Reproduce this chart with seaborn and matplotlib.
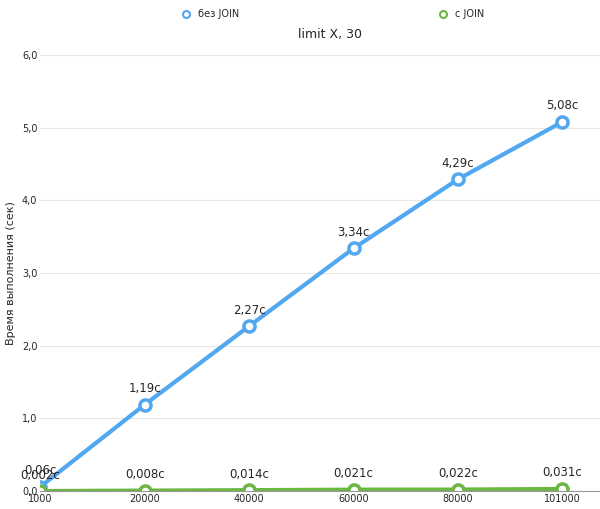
import matplotlib
matplotlib.use("Agg")
import matplotlib.pyplot as plt
import seaborn as sns
import pandas as pd

categories = ["1000", "20000", "40000", "60000", "80000", "101000"]
no_join = [0.06, 1.19, 2.27, 3.34, 4.29, 5.08]
with_join = [0.002, 0.008, 0.014, 0.021, 0.022, 0.031]
no_join_labels = ["0,06с", "1,19с", "2,27с", "3,34с", "4,29с", "5,08с"]
with_join_labels = ["0,002с", "0,008с", "0,014с", "0,021с", "0,022с", "0,031с"]

sns.set_style("white")
plt.rcParams['font.family'] = ['DejaVu Sans']
fig = plt.figure(figsize=(6, 5.09), dpi=100)
ax = fig.add_axes([0.067, 0.035, 0.933, 0.857])

x = list(range(len(categories)))
df = pd.DataFrame({"x": x * 2, "y": no_join + with_join,
                   "s": ["без JOIN"] * 6 + ["с JOIN"] * 6})
pal = {"без JOIN": "#51a7f0", "с JOIN": "#6cb643"}
sns.lineplot(data=df, x="x", y="y", hue="s", palette=pal, ax=ax, lw=3,
             marker="o", markersize=8, markerfacecolor="white",
             markeredgewidth=2.5, legend=False)
for l in ax.lines:
    l.set_markeredgecolor(l.get_color())
for xi, v, t in zip(x, no_join, no_join_labels):
    ax.annotate(t, (xi, v), xytext=(0, 9), textcoords="offset points",
                ha="center", fontsize=8.5)
for xi, v, t in zip(x, with_join, with_join_labels):
    ax.annotate(t, (xi, v), xytext=(0, 9), textcoords="offset points",
                ha="center", fontsize=8.5)

ax.set_xlim(0, 5.36)
ax.set_ylim(0, 6)
ax.set_xticks(x)
ax.set_xticklabels(categories, fontsize=7)
ax.set_yticks([0, 1, 2, 3, 4, 5, 6])
ax.set_yticklabels(["0,0", "1,0", "2,0", "3,0", "4,0", "5,0", "6,0"], fontsize=7)
ax.grid(axis="y", color="#e6e6e6", lw=0.8)
for s in ["top", "right", "left"]:
    ax.spines[s].set_visible(False)
ax.spines["bottom"].set_color("#999999")
ax.tick_params(length=0, pad=2)
ax.set_xlabel("")
ax.set_ylabel("Время выполнения (сек)", fontsize=8)
fig.text(0.55, 0.925, "limit X, 30", ha="center", fontsize=9)

from matplotlib.lines import Line2D
h = [Line2D([], [], marker="o", ls="", markerfacecolor="white",
            markeredgecolor=pal[k], markeredgewidth=1.5, markersize=5) for k in pal]
fig.legend(h, list(pal), loc="center", bbox_to_anchor=(0.55, 0.972), ncol=2,
           frameon=False, fontsize=7, columnspacing=20, handletextpad=0.2)
fig.savefig("out.png", dpi=100)
